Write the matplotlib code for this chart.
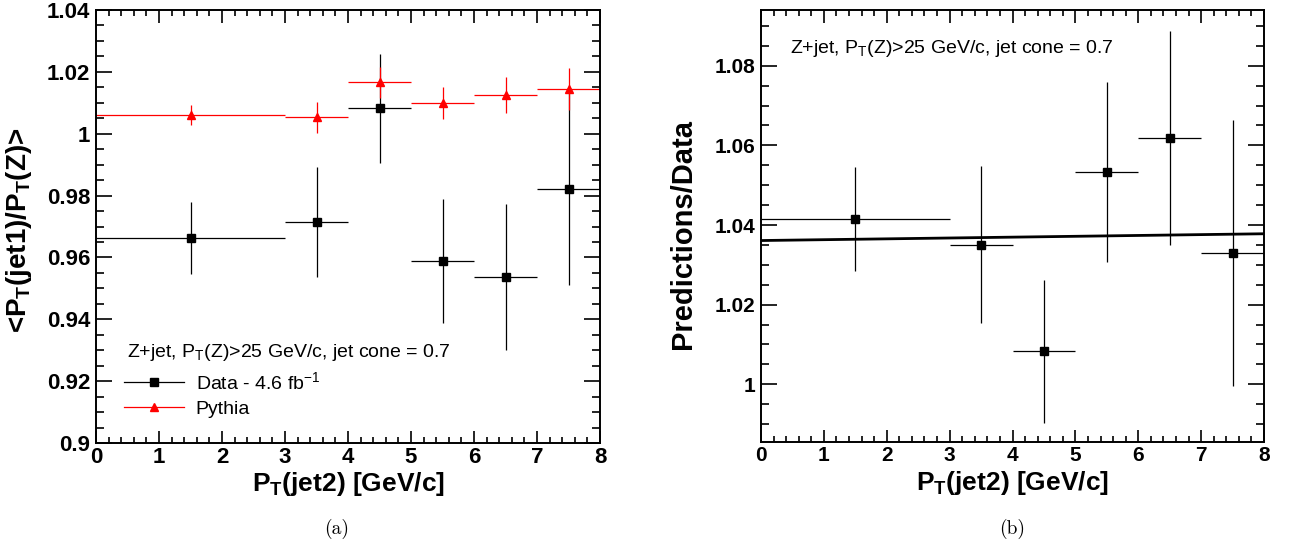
import matplotlib
matplotlib.use("Agg")
import matplotlib.pyplot as plt
from matplotlib.lines import Line2D
from matplotlib.ticker import MultipleLocator

# Text settings, Helvetica-like everywhere, Computer Modern for the captions
plt.rcParams['font.family'] = ['Liberation Sans', 'DejaVu Sans']
plt.rcParams['mathtext.fontset'] = 'custom'
plt.rcParams['mathtext.rm'] = 'Liberation Sans'
plt.rcParams['mathtext.bf'] = 'Liberation Sans:bold'
plt.rcParams['mathtext.it'] = 'Liberation Sans:italic'

# P_T(jet2) bins
bin_x = [1.5, 3.5, 4.5, 5.5, 6.5, 7.5]
bin_halfwidth = [1.5, 0.5, 0.5, 0.5, 0.5, 0.5]

# (a) <P_T(jet1)/P_T(Z)>
data_y = [0.9662, 0.9714, 1.0082, 0.9588, 0.9536, 0.9821]
data_err = [0.0117, 0.0178, 0.0176, 0.0200, 0.0236, 0.0310]
pythia_y = [1.0061, 1.0053, 1.0166, 1.0099, 1.0125, 1.0144]
pythia_err = [0.0033, 0.0050, 0.0050, 0.0051, 0.0057, 0.0068]

# (b) Predictions/Data with straight line fit
ratio_y = [1.0415, 1.0350, 1.0083, 1.0533, 1.0618, 1.0329]
ratio_err = [0.0130, 0.0197, 0.0180, 0.0226, 0.0269, 0.0334]
fit_x = [0, 8]
fit_y = [1.0361, 1.0378]

W, H = 1309, 550
fig = plt.figure(figsize=(W / 100, H / 100), dpi=100)
ax1 = fig.add_axes([96 / W, 1 - 443 / H, 504 / W, 433 / H])
ax2 = fig.add_axes([761 / W, 1 - 442 / H, 503 / W, 432 / H])


def style_axis(ax, tick_size):
    ax.set_xlim(0, 8)
    ax.xaxis.set_major_locator(MultipleLocator(1))
    ax.xaxis.set_minor_locator(MultipleLocator(0.2))
    ax.yaxis.set_major_locator(MultipleLocator(0.02))
    ax.yaxis.set_minor_locator(MultipleLocator(0.005))
    ax.tick_params(which='both', direction='in', top=True, right=True, width=1.2)
    ax.tick_params(axis='y', which='major', length=11.5)
    ax.tick_params(axis='y', which='minor', length=5.8)
    ax.tick_params(axis='x', which='major', length=9)
    ax.tick_params(axis='x', which='minor', length=4.5)
    ax.tick_params(axis='x', which='major', pad=3)
    ax.tick_params(axis='y', which='major', pad=4)
    for lab in ax.get_xticklabels() + ax.get_yticklabels():
        lab.set_fontweight('bold')
        lab.set_fontsize(tick_size)
    for s in ax.spines.values():
        s.set_linewidth(1.4)


def ytick_fmt(v, pos):
    return f"{v:.2f}".rstrip('0').rstrip('.')


# ---- panel (a)
ax1.errorbar(bin_x, data_y, xerr=bin_halfwidth, yerr=data_err, fmt='s',
             color='black', ms=6, lw=0.9, capsize=0)
ax1.errorbar(bin_x, pythia_y, xerr=bin_halfwidth, yerr=pythia_err, fmt='^',
             color='red', ms=6, lw=0.9, capsize=0)
ax1.set_ylim(0.9, 1.04)
style_axis(ax1, 16)
ax1.yaxis.set_major_formatter(plt.FuncFormatter(ytick_fmt))
ax1.set_xlabel(r'P$_{\mathbf{T}}$(jet2) [GeV/c]', fontsize=19, fontweight='bold', va='center')
ax1.set_ylabel(r'<P$_{\mathbf{T}}$(jet1)/P$_{\mathbf{T}}$(Z)>', fontsize=20,
               fontweight='bold', va='center')
ax1.xaxis.set_label_coords(0.5, -0.095)
ax1.yaxis.set_label_coords(-0.152, 0.492)
ax1.text(0.062, 0.208, r'Z+jet, P$_{\mathrm{T}}$(Z)>25 GeV/c, jet cone = 0.7',
         transform=ax1.transAxes, fontsize=14, va='center', ha='left')
handles = [Line2D([], [], color='black', marker='s', ms=6, lw=0.9),
           Line2D([], [], color='red', marker='^', ms=6, lw=0.9)]
ax1.legend(handles, [r'Data - 4.6 fb$^{\mathrm{-1}}$', 'Pythia'],
           loc='center left', bbox_to_anchor=(0.055, 0.112), frameon=False,
           fontsize=14, handlelength=3.1, handletextpad=0.6, labelspacing=0.35,
           borderpad=0, borderaxespad=0)

# ---- panel (b)
ax2.errorbar(bin_x, ratio_y, xerr=bin_halfwidth, yerr=ratio_err, fmt='s',
             color='black', ms=6, lw=0.9, capsize=0)
ax2.plot(fit_x, fit_y, color='black', lw=2)
ax2.set_ylim(0.9855, 1.094)
style_axis(ax2, 15)
ax2.yaxis.set_major_formatter(plt.FuncFormatter(ytick_fmt))
ax2.set_xlabel(r'P$_{\mathbf{T}}$(jet2) [GeV/c]', fontsize=19, fontweight='bold', va='center')
ax2.set_ylabel('Predictions/Data', fontsize=21, fontweight='bold', va='center')
ax2.xaxis.set_label_coords(0.5, -0.095)
ax2.yaxis.set_label_coords(-0.155, 0.481)
ax2.text(0.058, 0.912, r'Z+jet, P$_{\mathrm{T}}$(Z)>25 GeV/c, jet cone = 0.7',
         transform=ax2.transAxes, fontsize=14, va='center', ha='left')

# sub-figure captions
fig.text(337 / W, 1 - 529 / H, '(a)', fontfamily='cmr10', fontsize=14, ha='center', va='center')
fig.text(1012 / W, 1 - 529 / H, '(b)', fontfamily='cmr10', fontsize=14, ha='center', va='center')

fig.savefig('out.png', dpi=100)
